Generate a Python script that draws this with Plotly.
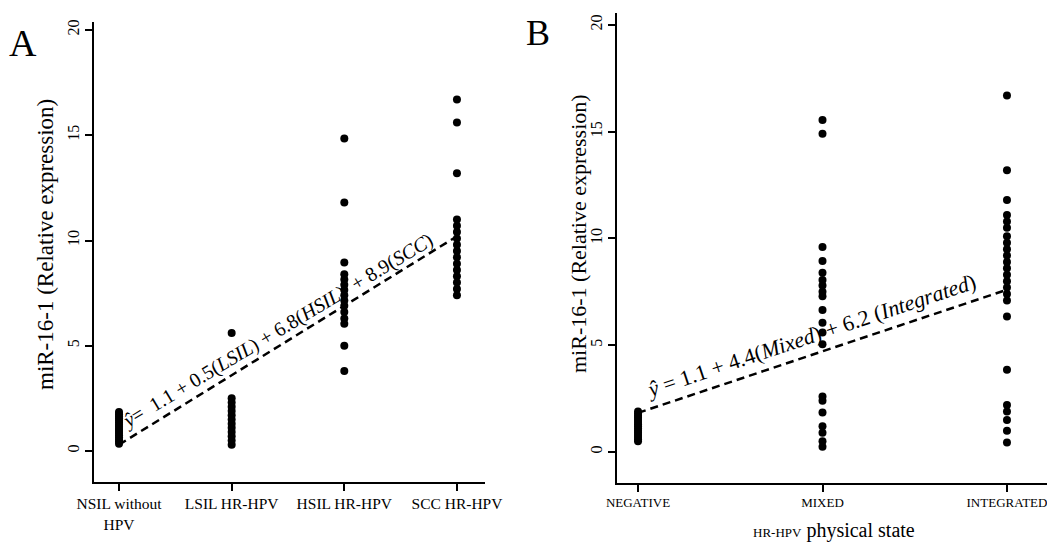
import plotly.graph_objects as go

# ---------------- data ----------------
cats_a = ["NSIL without<br>HPV", "LSIL HR-HPV", "HSIL HR-HPV", "SCC HR-HPV"]
nsil = [0.35, 0.45, 0.55, 0.65, 0.75, 0.85, 0.95, 1.05, 1.15, 1.25, 1.35, 1.45, 1.55, 1.65, 1.75, 1.85]
lsil = [0.3, 0.5, 0.7, 0.9, 1.1, 1.3, 1.5, 1.7, 1.9, 2.1, 2.3, 2.5, 5.6]
hsil = [14.85, 11.8, 8.95, 8.4, 8.15, 7.9, 7.65, 7.4, 7.15, 6.9, 6.6, 6.3, 6.05, 5.0, 3.8]
scc = [16.7, 15.6, 13.2, 11.0, 10.7, 10.4, 10.1, 9.8, 9.5, 9.2, 8.9, 8.6, 8.3, 8.0, 7.7, 7.4]
fit_a_x = [1, 4]
fit_a_y = [0.3, 10.2]
eq_a = "<i>ŷ</i>=  1.1 + 0.5(<i>LSIL</i>) + 6.8(<i>HSIL</i>)  + 8.9(<i>SCC</i>)"

cats_b = ["NEGATIVE", "MIXED", "INTEGRATED"]
negative = [0.5, 0.6, 0.7, 0.8, 0.9, 1.0, 1.1, 1.2, 1.3, 1.4, 1.5, 1.6, 1.7, 1.8, 1.9]
mixed = [15.55, 14.9, 9.6, 8.95, 8.4, 8.05, 7.8, 7.5, 7.3, 6.65, 6.05, 5.6, 5.05,
         2.6, 2.4, 1.85, 1.2, 0.9, 0.5, 0.25]
integrated = [16.7, 13.2, 11.8, 11.1, 10.8, 10.5, 10.1, 9.8, 9.5, 9.2, 8.9, 8.6, 8.3, 8.0,
              7.7, 7.4, 7.1, 6.35, 3.85, 2.2, 1.9, 1.5, 1.0, 0.45]
fit_b_x = [1, 3]
fit_b_y = [1.83, 7.6]
eq_b = "<i>ŷ</i> = 1.1 + 4.4(<i>Mixed</i>) + 6.2 (<i>Integrated</i>)"

yticks = [0, 5, 10, 15, 20]
ytitle = "miR-16-1 (Relative expression)"

# ---------------- figure ----------------
FONT = "Liberation Serif, Times New Roman, serif"
W, H = 1047, 544
fig = go.Figure()

marker = dict(color="black", size=8)


def add_group(vals, xpos, xa, ya):
    fig.add_trace(go.Scatter(x=[xpos] * len(vals), y=vals, mode="markers",
                             marker=marker, xaxis=xa, yaxis=ya, showlegend=False,
                             hoverinfo="y"))


for i, vals in enumerate([nsil, lsil, hsil, scc]):
    add_group(vals, i + 1, "x", "y")
for i, vals in enumerate([negative, mixed, integrated]):
    add_group(vals, i + 1, "x2", "y2")

fig.add_trace(go.Scatter(x=fit_a_x, y=fit_a_y, mode="lines",
                         line=dict(color="black", width=2.5, dash="8px,5px"),
                         xaxis="x", yaxis="y", showlegend=False, hoverinfo="skip"))
fig.add_trace(go.Scatter(x=fit_b_x, y=fit_b_y, mode="lines",
                         line=dict(color="black", width=2.5, dash="8px,5px"),
                         xaxis="x2", yaxis="y2", showlegend=False, hoverinfo="skip"))


def px(v):
    return v / W


def py(v):
    return 1 - v / H


def axis_style(size):
    return dict(showline=True, linecolor="black", linewidth=1.5, ticks="outside",
                ticklen=7, tickwidth=1.5, tickcolor="black", showgrid=False,
                zeroline=False, automargin=False, ticklabeloverflow="allow",
                tickfont=dict(family=FONT, size=size, color="black"))


fig.update_layout(
    template="none",
    width=W, height=H, margin=dict(l=0, r=0, t=0, b=0, autoexpand=False),
    plot_bgcolor="white", paper_bgcolor="white",
    font=dict(family=FONT, color="black"),
    xaxis=dict(domain=[px(94), px(485)], range=[0.778, 4.249], tickmode="array",
               tickvals=[1, 2, 3, 4], ticktext=cats_a, anchor="y", **axis_style(15.5)),
    yaxis=dict(domain=[py(482), py(22)], range=[-1.473, 20.38], tickmode="array",
               tickvals=yticks, tickangle=-90, anchor="x", **axis_style(16)),
    xaxis2=dict(domain=[px(617), 1.0], range=[0.886, 3.217], tickmode="array",
                tickvals=[1, 2, 3], ticktext=cats_b, anchor="y2", **axis_style(13)),
    yaxis2=dict(domain=[py(483), py(13)], range=[-1.452, 20.56], tickmode="array",
                tickvals=yticks, tickangle=-90, anchor="x2", **axis_style(16)),
)


def note(text, x, y, size, xref="paper", yref="paper", angle=0):
    return dict(text=text, x=x, y=y, xref=xref, yref=yref, showarrow=False,
                xanchor="center", yanchor="middle", textangle=angle,
                font=dict(family=FONT, size=size, color="black"))


ann = [
    note("A", px(23), py(43), 38),
    note("B", px(538), py(33), 36),
    note(ytitle, px(45), py(245), 23, angle=-90),
    note(ytitle, px(578), py(234), 22, angle=-90),
    note("<span style='font-size:13px'>HR-HPV</span> physical state", px(834), py(530), 20),
    note(eq_a, 2.41, 5.72, 20, "x", "y", -31),
    note(eq_b, 1.94, 5.45, 22, "x2", "y2", -18.5),
]
fig.update_layout(annotations=ann)

fig.write_html("out.html", config={"displayModeBar": False},
               post_script="document.body.style.margin='0';document.body.style.overflow='hidden';")
